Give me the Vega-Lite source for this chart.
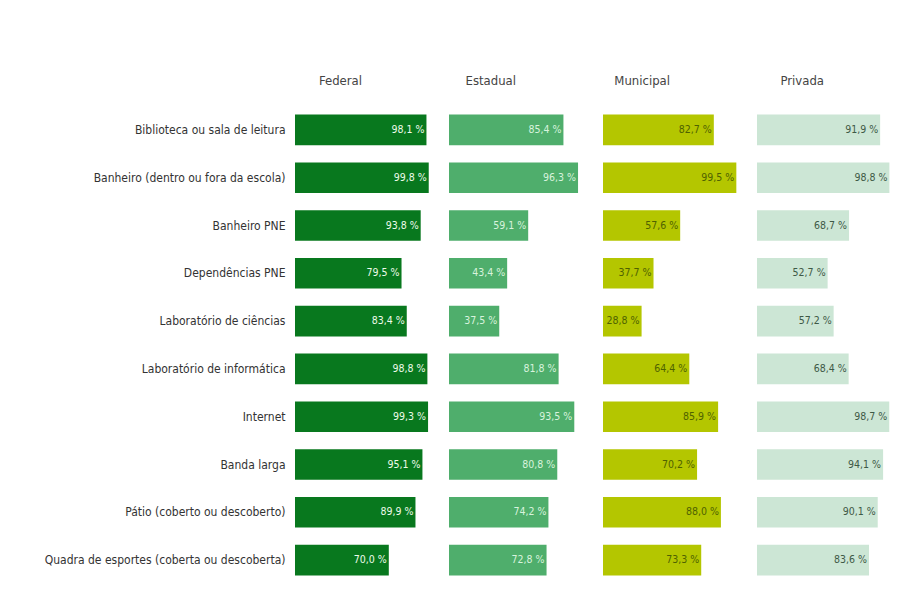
{
  "$schema": "https://vega.github.io/schema/vega-lite/v6.json",
  "background": "white",
  "padding": {"left": 44, "top": 75, "right": 5, "bottom": 5},
  "data": {
    "values": [
      {"categoria": "Biblioteca ou sala de leitura", "tipo": "Federal", "valor": 98.1, "rotulo": "98,1 %"},
      {"categoria": "Biblioteca ou sala de leitura", "tipo": "Estadual", "valor": 85.4, "rotulo": "85,4 %"},
      {"categoria": "Biblioteca ou sala de leitura", "tipo": "Municipal", "valor": 82.7, "rotulo": "82,7 %"},
      {"categoria": "Biblioteca ou sala de leitura", "tipo": "Privada", "valor": 91.9, "rotulo": "91,9 %"},
      {"categoria": "Banheiro (dentro ou fora da escola)", "tipo": "Federal", "valor": 99.8, "rotulo": "99,8 %"},
      {"categoria": "Banheiro (dentro ou fora da escola)", "tipo": "Estadual", "valor": 96.3, "rotulo": "96,3 %"},
      {"categoria": "Banheiro (dentro ou fora da escola)", "tipo": "Municipal", "valor": 99.5, "rotulo": "99,5 %"},
      {"categoria": "Banheiro (dentro ou fora da escola)", "tipo": "Privada", "valor": 98.8, "rotulo": "98,8 %"},
      {"categoria": "Banheiro PNE", "tipo": "Federal", "valor": 93.8, "rotulo": "93,8 %"},
      {"categoria": "Banheiro PNE", "tipo": "Estadual", "valor": 59.1, "rotulo": "59,1 %"},
      {"categoria": "Banheiro PNE", "tipo": "Municipal", "valor": 57.6, "rotulo": "57,6 %"},
      {"categoria": "Banheiro PNE", "tipo": "Privada", "valor": 68.7, "rotulo": "68,7 %"},
      {"categoria": "Dependências PNE", "tipo": "Federal", "valor": 79.5, "rotulo": "79,5 %"},
      {"categoria": "Dependências PNE", "tipo": "Estadual", "valor": 43.4, "rotulo": "43,4 %"},
      {"categoria": "Dependências PNE", "tipo": "Municipal", "valor": 37.7, "rotulo": "37,7 %"},
      {"categoria": "Dependências PNE", "tipo": "Privada", "valor": 52.7, "rotulo": "52,7 %"},
      {"categoria": "Laboratório de ciências", "tipo": "Federal", "valor": 83.4, "rotulo": "83,4 %"},
      {"categoria": "Laboratório de ciências", "tipo": "Estadual", "valor": 37.5, "rotulo": "37,5 %"},
      {"categoria": "Laboratório de ciências", "tipo": "Municipal", "valor": 28.8, "rotulo": "28,8 %"},
      {"categoria": "Laboratório de ciências", "tipo": "Privada", "valor": 57.2, "rotulo": "57,2 %"},
      {"categoria": "Laboratório de informática", "tipo": "Federal", "valor": 98.8, "rotulo": "98,8 %"},
      {"categoria": "Laboratório de informática", "tipo": "Estadual", "valor": 81.8, "rotulo": "81,8 %"},
      {"categoria": "Laboratório de informática", "tipo": "Municipal", "valor": 64.4, "rotulo": "64,4 %"},
      {"categoria": "Laboratório de informática", "tipo": "Privada", "valor": 68.4, "rotulo": "68,4 %"},
      {"categoria": "Internet", "tipo": "Federal", "valor": 99.3, "rotulo": "99,3 %"},
      {"categoria": "Internet", "tipo": "Estadual", "valor": 93.5, "rotulo": "93,5 %"},
      {"categoria": "Internet", "tipo": "Municipal", "valor": 85.9, "rotulo": "85,9 %"},
      {"categoria": "Internet", "tipo": "Privada", "valor": 98.7, "rotulo": "98,7 %"},
      {"categoria": "Banda larga", "tipo": "Federal", "valor": 95.1, "rotulo": "95,1 %"},
      {"categoria": "Banda larga", "tipo": "Estadual", "valor": 80.8, "rotulo": "80,8 %"},
      {"categoria": "Banda larga", "tipo": "Municipal", "valor": 70.2, "rotulo": "70,2 %"},
      {"categoria": "Banda larga", "tipo": "Privada", "valor": 94.1, "rotulo": "94,1 %"},
      {"categoria": "Pátio (coberto ou descoberto)", "tipo": "Federal", "valor": 89.9, "rotulo": "89,9 %"},
      {"categoria": "Pátio (coberto ou descoberto)", "tipo": "Estadual", "valor": 74.2, "rotulo": "74,2 %"},
      {"categoria": "Pátio (coberto ou descoberto)", "tipo": "Municipal", "valor": 88.0, "rotulo": "88,0 %"},
      {"categoria": "Pátio (coberto ou descoberto)", "tipo": "Privada", "valor": 90.1, "rotulo": "90,1 %"},
      {"categoria": "Quadra de esportes (coberta ou descoberta)", "tipo": "Federal", "valor": 70.0, "rotulo": "70,0 %"},
      {"categoria": "Quadra de esportes (coberta ou descoberta)", "tipo": "Estadual", "valor": 72.8, "rotulo": "72,8 %"},
      {"categoria": "Quadra de esportes (coberta ou descoberta)", "tipo": "Municipal", "valor": 73.3, "rotulo": "73,3 %"},
      {"categoria": "Quadra de esportes (coberta ou descoberta)", "tipo": "Privada", "valor": 83.6, "rotulo": "83,6 %"}
    ]
  },
  "facet": {
    "column": {
      "field": "tipo",
      "type": "nominal",
      "sort": ["Federal", "Estadual", "Municipal", "Privada"],
      "header": {
        "title": null,
        "labelFont": "DejaVu Sans Condensed, sans-serif",
        "labelFontSize": 13,
        "labelColor": "#444444",
        "labelAlign": "right",
        "labelPadding": 18
      }
    }
  },
  "spacing": 20,
  "spec": {
    "width": 134,
    "height": 478,
    "encoding": {
      "y": {
        "field": "categoria",
        "type": "nominal",
        "sort": null,
        "scale": {"paddingInner": 0.36, "paddingOuter": 0.18},
        "axis": {
          "title": null,
          "ticks": false,
          "domain": false,
          "labelPadding": 10,
          "labelFont": "DejaVu Sans Condensed, sans-serif",
          "labelFontSize": 12,
          "labelColor": "#333333",
          "labelLimit": 400
        }
      },
      "x": {
        "field": "valor",
        "type": "quantitative",
        "scale": {"domain": [0, 100]},
        "axis": null
      }
    },
    "layer": [
      {
        "mark": {"type": "bar"},
        "encoding": {
          "color": {
            "field": "tipo",
            "type": "nominal",
            "scale": {
              "domain": ["Federal", "Estadual", "Municipal", "Privada"],
              "range": ["#08781e", "#4fae6c", "#b4c600", "#cce6d5"]
            },
            "legend": null
          }
        }
      },
      {
        "mark": {
          "type": "text",
          "align": "right",
          "baseline": "middle",
          "dx": -2,
          "font": "DejaVu Sans Condensed, sans-serif",
          "fontSize": 10.5
        },
        "encoding": {
          "text": {"field": "rotulo"},
          "color": {
            "condition": [
              {"test": "datum.tipo === 'Federal'", "value": "#eefbea"},
              {"test": "datum.tipo === 'Estadual'", "value": "#d8f3dd"},
              {"test": "datum.tipo === 'Municipal'", "value": "#4f6200"}
            ],
            "value": "#3e5946"
          }
        }
      }
    ]
  },
  "config": {"view": {"stroke": null}}
}
